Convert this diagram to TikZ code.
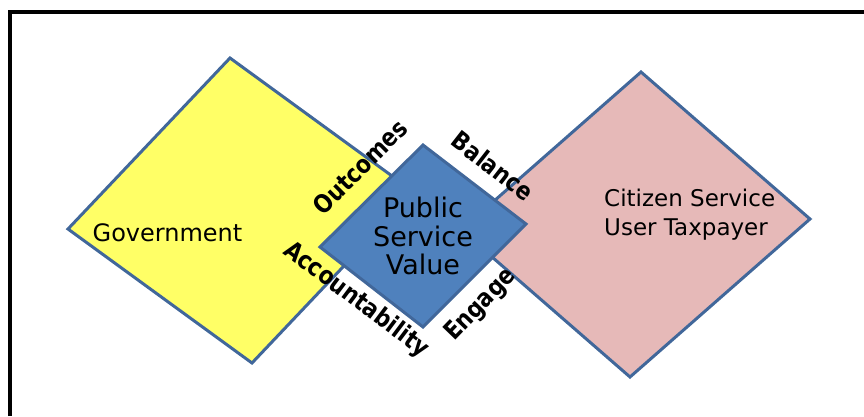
\documentclass[tikz,border=0pt]{standalone}
\usepackage{fontspec}
\usepackage{graphicx}
\setmainfont{DejaVu Sans}
\definecolor{govfill}{HTML}{FFFF66}
\definecolor{citfill}{HTML}{E6B9B8}
\definecolor{psvfill}{HTML}{4F81BD}
\definecolor{edge}{HTML}{41679A}
\newcommand{\narrow}[1]{\scalebox{0.86}[1]{#1}}
\begin{document}
\begin{tikzpicture}[x=1pt,y=-1pt,
  panel/.style={draw=edge,line width=3pt,line join=miter},
  boxtext/.style={font=\fontsize{23.5}{28.5}\selectfont,align=left,inner sep=0pt},
  linklabel/.style={font=\bfseries\fontsize{25}{28}\selectfont,inner sep=0pt}]
  \useasboundingbox (0,0) rectangle (864,416);
  % frame (top and left edges)
  \draw[line width=4pt] (9.5,416) -- (9.5,12) -- (864,12);
  % Government
  \coordinate (gL) at (68,229);
  \coordinate (gT) at (230,58);
  \coordinate (gR) at (414,192);
  \coordinate (gB) at (252,363);
  \filldraw[panel,fill=govfill] (gL) -- (gT) -- (gR) -- (gB) -- cycle;
  % Citizen
  \coordinate (cL) at (461,230);
  \coordinate (cT) at (641,72);
  \coordinate (cR) at (810,219);
  \coordinate (cB) at (630,377);
  \filldraw[panel,fill=citfill] (cL) -- (cT) -- (cR) -- (cB) -- cycle;
  % Public Service Value
  \coordinate (pL) at (320,247);
  \coordinate (pT) at (423,145);
  \coordinate (pR) at (526,224);
  \coordinate (pB) at (423,327);
  \filldraw[panel,fill=psvfill] (pL) -- (pT) -- (pR) -- (pB) -- cycle;
  % texts
  \node[boxtext,font=\fontsize{24}{28.5}\selectfont] (gov) at (167.5,233) {Government};
  \node[boxtext,anchor=west,font=\fontsize{23}{28.5}\selectfont] (cit) at (604,214.5) {Citizen Service\\User Taxpayer};
  \node[boxtext,align=center,font=\fontsize{27}{28.5}\selectfont] (psv) at (423,236) {Public\\Service\\Value};
  \node[linklabel,rotate=45] (outc) at (360,167) {\narrow{Outcomes}};
  \node[linklabel,rotate=-38] (bal) at (493,166) {\narrow{Balance}};
  \node[linklabel,rotate=-37] (acc) at (356,300) {\narrow{Accountability}};
  \node[linklabel,rotate=46] (eng) at (481,305) {\narrow{Engage}};
\end{tikzpicture}
\end{document}
